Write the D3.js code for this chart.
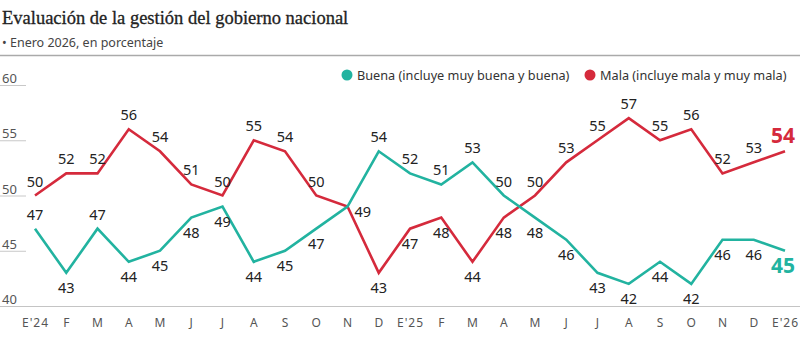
<!DOCTYPE html>
<html>
<head>
<meta charset="utf-8">
<script src="https://cdn.jsdelivr.net/npm/d3@7"></script>
<style>
  body { margin: 0; background: #fff; }
  svg { display: block; }
</style>
</head>
<body>
<svg id="chart"></svg>
<script>
// DATA
var months = ["E'24", "F", "M", "A", "M", "J", "J", "A", "S", "O", "N", "D",
  "E'25", "F", "M", "A", "M", "J", "J", "A", "S", "O", "N", "D", "E'26"];
var buena = [47, 43, 47, 44, 45, 48, 49, 44, 45, 47, 49, 54,
  52, 51, 53, 50, 48, 46, 43, 42, 44, 42, 46, 46, 45];
var mala = [50, 52, 52, 56, 54, 51, 50, 55, 54, 50, 49, 43,
  47, 48, 44, 48, 50, 53, 55, 57, 55, 56, 52, 53, 54];
var yTicks = [40, 45, 50, 55, 60];

// where each value label sits: u = above, d = below, r = right, - = none
var buenaSide = ("udu" + "ddddddd" + "-" + "uuuuu" + "ddddddddd").split("");
var malaSide = ("uuuuuuuuuu" + "r" + "ddddd" + "uuuuuuuuu").split("");

// SIZES
var width = 800, height = 344;
var teal = "#22b3a0", red = "#d52a3c";

var svg = d3.select("#chart")
  .attr("width", width)
  .attr("height", height)
  .style("font-family", "'Noto Sans', sans-serif");

// Scales
var xScale = d3.scalePoint()
  .domain(d3.range(months.length))
  .range([35, 785]);

var yScale = d3.scaleLinear()
  .domain([40, 60])
  .range([306, 85]);

// Title block
svg.append("text")
  .attr("x", 2)
  .attr("y", 24)
  .style("font-family", "'Liberation Serif', serif")
  .style("font-size", "18.5px")
  .attr("fill", "#222")
  .attr("stroke", "#222")
  .attr("stroke-width", 0.3)
  .text("Evaluación de la gestión del gobierno nacional");

svg.append("text")
  .attr("x", 2)
  .attr("y", 47)
  .style("font-size", "12.5px")
  .attr("fill", "#444")
  .text("• Enero 2026, en porcentaje");

svg.append("line")
  .attr("x1", 0).attr("x2", width)
  .attr("y1", 55.5).attr("y2", 55.5)
  .attr("stroke", "#aaa")
  .attr("stroke-width", 1.5);

// Y axis: short rules under the labels
var yAxis = svg.append("g").attr("class", "y-axis");
yTicks.forEach(function(t){
  yAxis.append("line")
    .attr("x1", 0).attr("x2", 26)
    .attr("y1", yScale(t) + 0.5).attr("y2", yScale(t) + 0.5)
    .attr("stroke", "#c8c8c8");
  yAxis.append("text")
    .attr("x", 2)
    .attr("y", yScale(t) - 2)
    .style("font-size", "13px")
    .attr("fill", "#555")
    .text(t);
});

// baseline
svg.append("line")
  .attr("x1", 0).attr("x2", width)
  .attr("y1", yScale(40) + 0.5).attr("y2", yScale(40) + 0.5)
  .attr("stroke", "#c4c4c4")
  .attr("stroke-width", 1.2);

// X axis labels
var xAxis = d3.axisBottom(xScale)
  .tickSize(0)
  .tickPadding(0)
  .tickFormat(function(i){ return months[i]; });

svg.append("g")
  .attr("transform", "translate(0," + 318 + ")")
  .call(xAxis)
  .call(function(g){ g.select(".domain").remove(); })
  .selectAll("text")
  .style("font-family", "'Noto Sans', sans-serif")
  .style("font-size", "12px")
  .style("letter-spacing", "1px")
  .attr("fill", "#555");

// Lines
var line = d3.line()
  .x(function(d, i){ return xScale(i); })
  .y(function(d){ return yScale(d); });

svg.append("path")
  .datum(mala)
  .attr("d", line)
  .attr("fill", "none")
  .attr("stroke", red)
  .attr("stroke-width", 2.6);

svg.append("path")
  .datum(buena)
  .attr("d", line)
  .attr("fill", "none")
  .attr("stroke", teal)
  .attr("stroke-width", 2.6);

// Value labels
function addLabels(values, sides, color){
  var last = values.length - 1;
  var items = values
    .map(function(v, i){ return {v: v, i: i, side: sides[i]}; })
    .filter(function(d){ return d.side != "-"; });

  svg.append("g")
    .selectAll("text")
    .data(items)
    .join("text")
    .attr("x", function(d){
      var x = xScale(d.i);
      if (d.side == "r") return x + 7;
      if (d.i == last) return x - 2;
      return x;
    })
    .attr("y", function(d){
      var y = yScale(d.v);
      if (d.side == "r") return y + 10;
      if (d.i == last) return d.side == "u" ? y - 8 : y + 22;
      return d.side == "u" ? y - 9 : y + 20;
    })
    .attr("text-anchor", function(d){ return d.side == "r" ? "start" : "middle"; })
    .style("font-size", function(d){ return d.i == last ? "21px" : "14.5px"; })
    .style("font-weight", function(d){ return d.i == last ? "700" : "400"; })
    .attr("fill", function(d){ return d.i == last ? color : "#222"; })
    .text(function(d){ return d.v; });
}
addLabels(mala, malaSide, red);
addLabels(buena, buenaSide, teal);

// Legend
var legendItems = [
  {label: "Buena (incluye muy buena y buena)", color: teal, x: 347},
  {label: "Mala (incluye mala y muy mala)", color: red, x: 590}
];
var legend = svg.append("g")
  .selectAll("g")
  .data(legendItems)
  .join("g")
  .attr("transform", function(d){ return "translate(" + d.x + ",75)"; });

legend.append("circle")
  .attr("r", 5.5)
  .attr("fill", function(d){ return d.color; });

legend.append("text")
  .attr("x", 10)
  .attr("y", 4.5)
  .style("font-size", "12.7px")
  .attr("fill", "#333")
  .text(function(d){ return d.label; });
</script>
</body>
</html>
